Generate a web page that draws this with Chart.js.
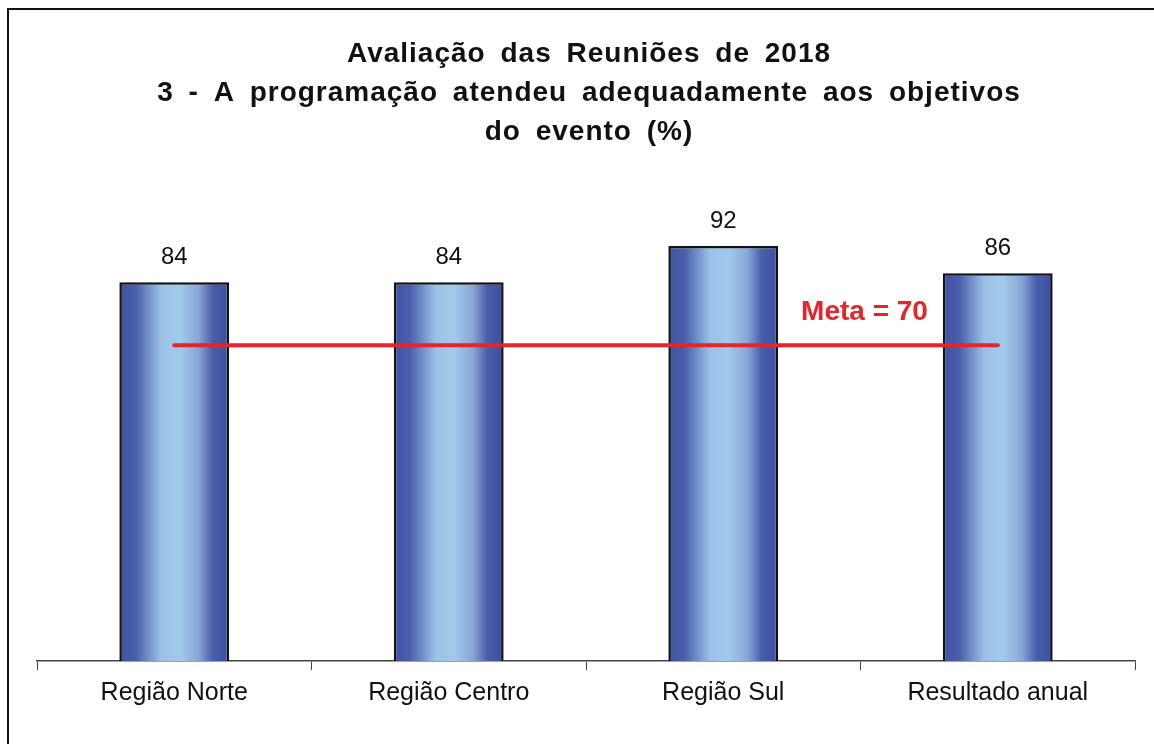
<!DOCTYPE html>
<html lang="pt">

<head>
    <meta charset="UTF-8">
    <title>Avaliação das Reuniões de 2018</title>
    <script src="https://cdn.jsdelivr.net/npm/chart.js"></script>
    <style>
        html, body { margin: 0; padding: 0; background: #fff; overflow: hidden; }
        #quadro { position: absolute; left: 0; top: 0; width: 1154px; height: 744px; }
        #moldura {
            position: absolute; left: 7px; top: 8px; width: 1300px; height: 900px;
            border-left: 2px solid #111; border-top: 2px solid #111; pointer-events: none;
        }
    </style>
</head>

<body>
    <div id="quadro"><canvas id="grafico"></canvas></div>
    <div id="moldura"></div>

<script>
    const regioes = ['Região Norte', 'Região Centro', 'Região Sul', 'Resultado anual'];
    const percentuais = [84, 84, 92, 86];
    const meta = [70, 70, 70, 70];
    const textoMeta = 'Meta = 70';
    const titulo = [
        'Avaliação das Reuniões de 2018',
        '3 - A programação atendeu adequadamente aos objetivos',
        'do evento (%)'
    ];

    const fonte = '"Liberation Sans", Arial, sans-serif';

    function gradienteBarra(c) {
        const chart = c.chart;
        const x = chart.scales.x;
        if (!chart.chartArea || !x) return '#5a72b8';
        const centro = x.getPixelForValue(c.dataIndex);
        const larg = (x.width / regioes.length) * 0.4;
        const g = chart.ctx.createLinearGradient(centro - larg / 2, 0, centro + larg / 2, 0);
        g.addColorStop(0, '#3f51a2');
        g.addColorStop(0.15, '#4b5fab');
        g.addColorStop(0.38, '#9bc2e6');
        g.addColorStop(0.55, '#a2caec');
        g.addColorStop(0.72, '#8aa6d4');
        g.addColorStop(0.85, '#4a5eab');
        g.addColorStop(1, '#3c4e9f');
        return g;
    }

    // titulo, rotulos em cima das barras e texto da meta
    const rotulos = {
        id: 'rotulos',
        afterDraw(chart) {
            const ctx = chart.ctx;
            ctx.save();
            ctx.textAlign = 'center';
            ctx.textBaseline = 'middle';
            ctx.fillStyle = '#111';
            ctx.font = 'bold 28px ' + fonte;
            ctx.letterSpacing = '1px';
            ctx.wordSpacing = '6px';
            titulo.forEach((linha, i) => {
                ctx.fillText(linha, 589, 54 + i * 39);
            });
            ctx.letterSpacing = '0px';
            ctx.wordSpacing = '0px';

            const barras = chart.getDatasetMeta(1).data;
            ctx.font = '24px ' + fonte;
            barras.forEach((b, i) => {
                ctx.fillText(percentuais[i], b.x, b.y - 25);
            });
            const xs = chart.scales.x;
            const ys = chart.scales.y;
            const mx = (xs.getPixelForValue(2) + xs.getPixelForValue(3)) / 2 + 4;
            ctx.fillStyle = '#e8232a';
            ctx.font = 'bold 28px ' + fonte;
            ctx.fillText(textoMeta, mx, ys.getPixelForValue(meta[0]) - 33);
            ctx.restore();
        }
    };

    new Chart(document.getElementById('grafico'), {
        data: {
            labels: regioes,
            datasets: [{
                type: 'line',
                label: 'Meta',
                data: meta,
                borderColor: '#e8232a',
                borderWidth: 4,
                borderCapStyle: 'round',
                pointRadius: 0,
                order: 0
            }, {
                type: 'bar',
                label: 'Percentual',
                data: percentuais,
                backgroundColor: gradienteBarra,
                borderColor: '#111',
                borderWidth: 2.5,
                categoryPercentage: 0.5,
                barPercentage: 0.8,
                order: 1
            }]
        },
        options: {
            responsive: true,
            maintainAspectRatio: false,
            animation: false,
            layout: { padding: { left: 37, right: 19, top: 210, bottom: 28 } },
            plugins: {
                legend: { display: false },
                tooltip: { enabled: false },
                title: { display: false }
            },
            scales: {
                y: { display: false, min: 0, max: 100 },
                x: {
                    offset: true,
                    grid: {
                        offset: true,
                        drawOnChartArea: false,
                        drawTicks: true,
                        tickLength: 9,
                        color: '#444'
                    },
                    border: { display: true, color: '#444', width: 1.5 },
                    ticks: {
                        color: '#111',
                        padding: 8,
                        font: { family: fonte, size: 25 }
                    }
                }
            }
        },
        plugins: [rotulos]
    });
</script>
</body>

</html>
